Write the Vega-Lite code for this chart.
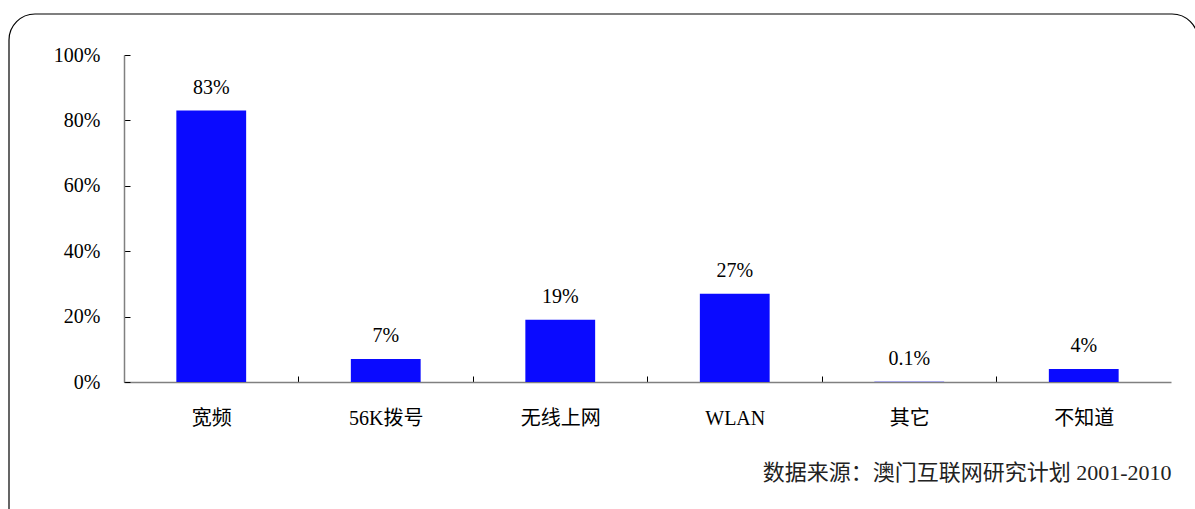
{
  "$schema": "https://vega.github.io/schema/vega-lite/v6.json",
  "width": 1047,
  "height": 327,
  "autosize": {"type": "none"},
  "padding": {"left": 124, "top": 55, "right": 24, "bottom": 127},
  "background": "white",
  "config": {
    "view": {"stroke": null},
    "font": "Liberation Serif, Noto Sans CJK SC",
    "axis": {"labelFont": "Liberation Serif, Noto Sans CJK SC", "labelColor": "#000000", "grid": false}
  },
  "title": {
    "text": "数据来源：澳门互联网研究计划 2001-2010",
    "orient": "bottom",
    "anchor": "end",
    "font": "Liberation Serif, Noto Sans CJK SC",
    "fontSize": 22,
    "fontWeight": "normal",
    "color": "#222222",
    "offset": -73,
    "dx": -27
  },
  "layer": [
    {
      "data": {"values": [{"frame": "border"}]},
      "mark": {"type": "rect", "fill": null, "stroke": "#000000", "strokeWidth": 1.2, "cornerRadius": 26, "clip": false},
      "encoding": {
        "x": {"value": -115},
        "x2": {"value": 1074},
        "y": {"value": -41},
        "y2": {"value": 480}
      }
    },
    {
      "data": {
        "values": [
          {"category": "宽频", "share": 0.83, "label": "83%"},
          {"category": "56K拨号", "share": 0.07, "label": "7%"},
          {"category": "无线上网", "share": 0.19, "label": "19%"},
          {"category": "WLAN", "share": 0.27, "label": "27%"},
          {"category": "其它", "share": 0.001, "label": "0.1%"},
          {"category": "不知道", "share": 0.04, "label": "4%"}
        ]
      },
      "encoding": {
        "x": {
          "field": "category",
          "type": "nominal",
          "sort": null,
          "scale": {"paddingInner": 0.6, "paddingOuter": 0.3},
          "axis": {
            "title": null,
            "labelAngle": 0,
            "labelFontSize": 20,
            "labelPadding": 32,
            "tickSize": -6,
            "tickColor": "#000000",
            "tickOffset": -87.25,
            "labelOffset": 87.25,
            "domainColor": "#808080",
            "domainWidth": 1.5
          }
        },
        "y": {
          "field": "share",
          "type": "quantitative",
          "scale": {"domain": [0, 1]},
          "axis": {
            "title": null,
            "format": ".0%",
            "values": [0, 0.2, 0.4, 0.6, 0.8, 1],
            "labelFontSize": 20,
            "labelPadding": 30,
            "tickSize": -6,
            "tickColor": "#000000",
            "domainColor": "#808080",
            "domainWidth": 1.5
          }
        }
      },
      "layer": [
        {"mark": {"type": "bar", "color": "#0a0aff"}},
        {
          "mark": {"type": "text", "baseline": "alphabetic", "dy": -17, "fontSize": 20, "font": "Liberation Serif", "color": "#000000"},
          "encoding": {"text": {"field": "label"}}
        }
      ]
    }
  ]
}
